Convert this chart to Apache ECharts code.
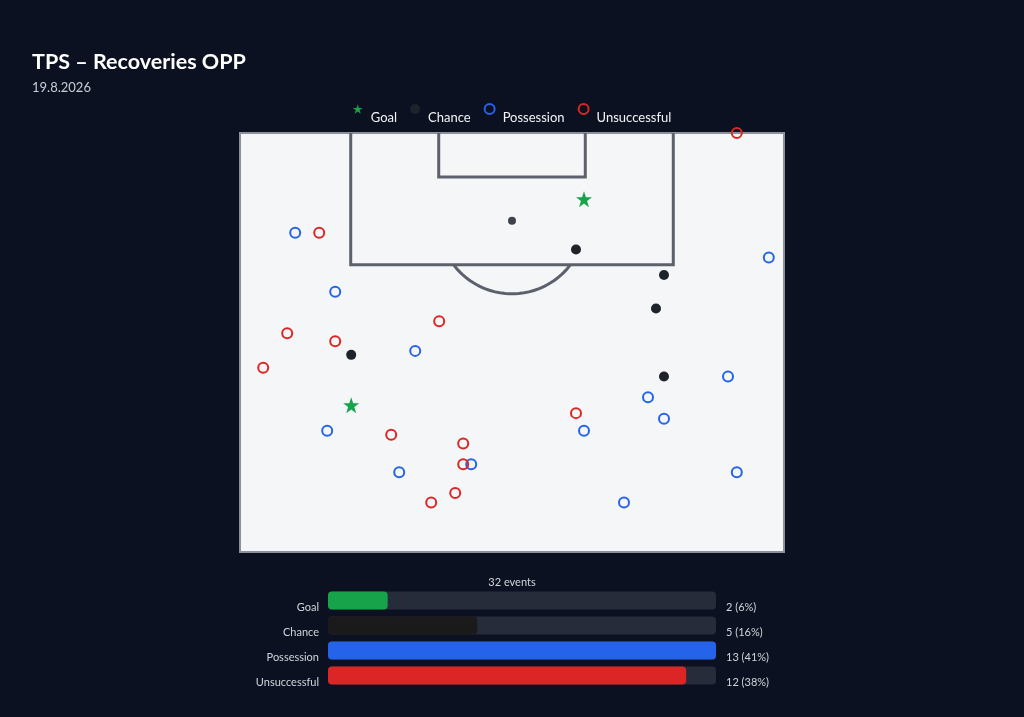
<!DOCTYPE html>
<html>
<head>
<meta charset="utf-8">
<title>TPS – Recoveries OPP</title>
<script src="https://cdn.jsdelivr.net/npm/echarts@6/dist/echarts.min.js"></script>
<style>
  html, body { margin: 0; padding: 0; background: #0b1120; }
  #chart { width: 1024px; height: 717px; }
</style>
</head>
<body>
<div id="chart"></div>
<script>
// event locations in metres: [x across pitch, distance from goal line]
var goalPts = [[43.0, 8.3], [13.9, 34.1]];
var chancePts = [[42.0, 14.6], [53.0, 17.8], [52.0, 22.0], [13.9, 27.8], [53.0, 30.5]];
var possessionPts = [
  [6.9, 12.5], [11.9, 19.9], [21.9, 27.3], [10.9, 37.3], [28.9, 41.5],
  [19.9, 42.5], [66.1, 15.6], [61.0, 30.5], [51.0, 33.1], [53.0, 35.8],
  [43.0, 37.3], [62.1, 42.5], [48.0, 46.3]
];
var unsuccessfulPts = [
  [62.1, 0.0], [9.9, 12.5], [24.9, 23.6], [5.9, 25.1], [11.9, 26.1],
  [2.9, 29.4], [18.9, 37.8], [27.9, 38.9], [27.9, 41.5], [26.9, 45.1],
  [23.9, 46.3], [42.0, 35.1]
];

var categories = ['Goal', 'Chance', 'Possession', 'Unsuccessful'];
var counts = [goalPts.length, chancePts.length, possessionPts.length, unsuccessfulPts.length];
var colors = ['#16a34a', '#1a1a1a', '#2563eb', '#dc2626'];

var total = counts.reduce(function (a, b) { return a + b; }, 0);
var maxCount = Math.max.apply(null, counts);

// half pitch markings (metres)
var PW = 68, PL = 52.5;
var lineColor = '#5c616c';
var pitchLines = [
  [[13.84, 0], [13.84, 16.5], [54.16, 16.5], [54.16, 0]],
  [[24.84, 0], [24.84, 5.5], [43.16, 5.5], [43.16, 0]]
];
var arc = [];
var a0 = Math.acos(5.5 / 9.15);
for (var i = 0; i <= 40; i++) {
  var t = -a0 + (2 * a0) * i / 40;
  arc.push([34 + 9.15 * Math.sin(t), 11 + 9.15 * Math.cos(t)]);
}
pitchLines.push(arc);

var font = 'Lato, "Noto Sans", sans-serif';
var star = 'path://M50,0 L61.8,35.3 L99,35.3 L68.9,57.1 L80.2,92.5 L50,70.7 L19.8,92.5 L31.1,57.1 L1,35.3 L38.2,35.3 Z';

var myChart = echarts.init(document.getElementById('chart'));

var option = {
  backgroundColor: '#0b1120',
  textStyle: { fontFamily: font },
  title: [
    {
      text: 'TPS – Recoveries OPP',
      subtext: '19.8.2026',
      left: 27,
      top: 46,
      itemGap: 8,
      textStyle: { color: '#ffffff', fontSize: 21.5, fontWeight: 'bold', fontFamily: font },
      subtextStyle: { color: '#c9ced6', fontSize: 13, fontFamily: font }
    },
    {
      text: total + ' events',
      left: 'center',
      top: 572,
      textStyle: { color: '#d1d5db', fontSize: 11, fontWeight: 'normal', fontFamily: font }
    }
  ],
  legend: {
    data: categories,
    top: 98,
    left: 'center',
    itemWidth: 10,
    itemHeight: 10,
    itemGap: 13,
    formatter: '{t|{name}}',
    textStyle: {
      color: '#f3f4f6', fontSize: 13,
      rich: { t: { color: '#f3f4f6', fontSize: 13, padding: [18, 0, 0, 3] } }
    }
  },
  grid: [
    {
      left: 240, top: 133, width: 544, height: 419,
      show: true, backgroundColor: '#f5f6f8', borderColor: '#8b9099', borderWidth: 2
    },
    { left: 328, top: 588, width: 388, height: 100 }
  ],
  xAxis: [
    { gridIndex: 0, type: 'value', min: 0, max: PW, show: false },
    { gridIndex: 1, type: 'value', min: 0, max: maxCount, show: false }
  ],
  yAxis: [
    { gridIndex: 0, type: 'value', min: 0, max: PL, inverse: true, show: false },
    {
      gridIndex: 1, type: 'category', data: categories, inverse: true,
      axisLine: { show: false }, axisTick: { show: false },
      axisLabel: { color: '#d1d5db', fontSize: 11, margin: 9, verticalAlign: 'top', padding: [1, 0, 0, 0] }
    },
    {
      gridIndex: 1, type: 'category', position: 'right', inverse: true,
      data: counts.map(function (c) { return c + ' (' + Math.round(c / total * 100) + '%)'; }),
      axisLine: { show: false }, axisTick: { show: false },
      axisLabel: { color: '#d1d5db', fontSize: 11, margin: 10, verticalAlign: 'top', padding: [1, 0, 0, 0] }
    }
  ],
  series: [
    {
      type: 'custom',
      xAxisIndex: 0, yAxisIndex: 0,
      silent: true, z: 1,
      data: pitchLines.map(function (_, idx) { return [idx]; }),
      renderItem: function (params, api) {
        var pts = pitchLines[api.value(0)].map(function (p) { return api.coord(p); });
        return {
          type: 'polyline',
          shape: { points: pts },
          style: { stroke: lineColor, lineWidth: 3, fill: null }
        };
      }
    },
    {
      name: 'spot', type: 'scatter', xAxisIndex: 0, yAxisIndex: 0,
      data: [[34, 11]], symbolSize: 8, silent: true, z: 2,
      itemStyle: { color: '#3d424d', opacity: 1 }
    },
    {
      name: 'Goal', type: 'scatter', xAxisIndex: 0, yAxisIndex: 0,
      data: goalPts, symbol: star, symbolSize: 16, z: 3,
      itemStyle: { color: colors[0], opacity: 1 }
    },
    {
      name: 'Chance', type: 'scatter', xAxisIndex: 0, yAxisIndex: 0,
      data: chancePts, symbol: 'circle', symbolSize: 10, z: 3,
      itemStyle: { color: '#1e222b', opacity: 1 }
    },
    {
      name: 'Possession', type: 'scatter', xAxisIndex: 0, yAxisIndex: 0,
      data: possessionPts, symbol: 'circle', symbolSize: 10, z: 3,
      itemStyle: { color: 'rgba(0,0,0,0)', borderColor: colors[2], borderWidth: 2, opacity: 1 }
    },
    {
      name: 'Unsuccessful', type: 'scatter', xAxisIndex: 0, yAxisIndex: 0,
      data: unsuccessfulPts, symbol: 'circle', symbolSize: 10, z: 3,
      itemStyle: { color: 'rgba(0,0,0,0)', borderColor: colors[3], borderWidth: 2, opacity: 1 }
    },
    {
      type: 'bar', xAxisIndex: 1, yAxisIndex: 1,
      barWidth: 18,
      showBackground: true,
      backgroundStyle: { color: '#262c3a', borderRadius: 4 },
      data: counts.map(function (c, k) {
        return { value: c, itemStyle: { color: colors[k], borderRadius: 4 } };
      })
    }
  ]
};

myChart.setOption(option);
</script>
</body>
</html>
